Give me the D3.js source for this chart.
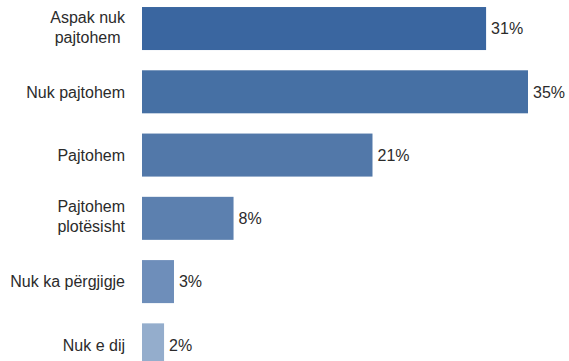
<!DOCTYPE html>
<html>
<head>
<meta charset="utf-8">
<script src="https://cdn.jsdelivr.net/npm/d3@7"></script>
<style>
  html, body { margin: 0; padding: 0; background: #fff; }
  svg { display: block; }
</style>
</head>
<body>
<script>
const categories = [
  ["Aspak nuk", "pajtohem"],
  ["Nuk pajtohem"],
  ["Pajtohem"],
  ["Pajtohem", "plotësisht"],
  ["Nuk ka përgjigje"],
  ["Nuk e dij"]
];
const values = [31.2, 35.0, 20.9, 8.3, 2.9, 2.0];
const valueLabels = ["31%", "35%", "21%", "8%", "3%", "2%"];
const colors = ["#3A66A0", "#4670A4", "#5278A9", "#5C80AF", "#6E8EBA", "#94ADCC"];

const W = 569, H = 361;
const keys = categories.map(c => c.join(" "));

const svg = d3.select("body").append("svg").attr("width", W).attr("height", H);

const x = d3.scaleLinear().domain([0, 35]).range([142, 528]);
const y = d3.scaleBand().domain(keys).range([-3.1, 376.5]).paddingInner(0.32).paddingOuter(0.16);

svg.selectAll("rect.bar").data(values).join("rect")
  .attr("class", "bar")
  .attr("x", x(0))
  .attr("y", (d, i) => y(keys[i]))
  .attr("width", d => x(d) - x(0))
  .attr("height", y.bandwidth())
  .attr("fill", (d, i) => colors[i]);

const font = "'Liberation Sans', Arial, sans-serif";
const fs = 16;
const textColor = "#2b2b2b";

svg.selectAll("text.val").data(values).join("text")
  .attr("class", "val")
  .attr("x", d => x(d) + 5)
  .attr("y", (d, i) => y(keys[i]) + y.bandwidth() / 2 + 5.8)
  .attr("font-family", font)
  .attr("font-size", fs)
  .attr("fill", textColor)
  .text((d, i) => valueLabels[i]);

const labelRight = 125;
const lineH = 20;
categories.forEach((lines, i) => {
  const cy = y(keys[i]) + y.bandwidth() / 2;
  const off = lines.length > 1 ? 4 : 5.8;
  const g = svg.append("g");
  const texts = lines.map((ln, j) => g.append("text")
    .attr("font-family", font)
    .attr("font-size", fs)
    .attr("fill", textColor)
    .attr("y", cy + (j - (lines.length - 1) / 2) * lineH + off)
    .text(ln));
  const widths = texts.map(t => t.node().getComputedTextLength());
  const maxW = d3.max(widths);
  texts.forEach(t => t.attr("x", labelRight - maxW / 2).attr("text-anchor", "middle"));
});
</script>
</body>
</html>
